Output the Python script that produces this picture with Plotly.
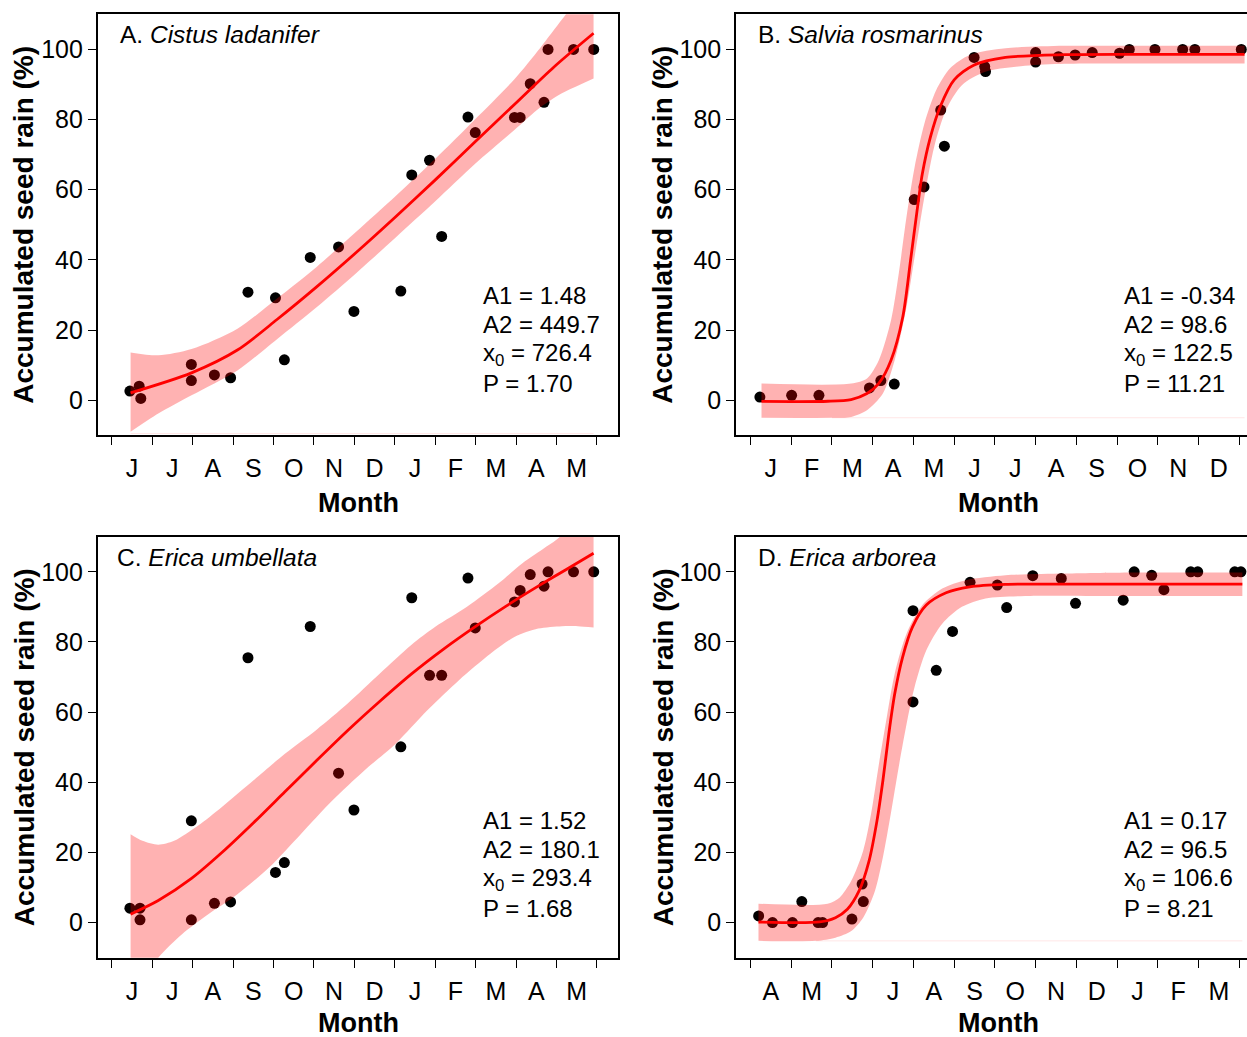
import plotly.graph_objects as go

W, H = 1247, 1037
FONT = "Liberation Sans, Arial, sans-serif"

# ---------------- data (x in month index from the first month tick, y in %) ----------------
a_months = ["J", "J", "A", "S", "O", "N", "D", "J", "F", "M", "A", "M"]
b_months = ["J", "F", "M", "A", "M", "J", "J", "A", "S", "O", "N", "D"]
c_months = ["J", "J", "A", "S", "O", "N", "D", "J", "F", "M", "A", "M"]
d_months = ["A", "M", "J", "J", "A", "S", "O", "N", "D", "J", "F", "M"]

# Panel A  Cistus ladanifer
a_x = [0.45, 0.68, 0.72, 1.97, 1.97, 2.54, 2.94, 3.37, 4.05, 4.27, 4.91, 5.61, 5.99,
       7.15, 7.42, 7.86, 8.16, 8.81, 8.99, 9.96, 10.10, 10.35, 10.69, 10.79, 11.42, 11.92]
a_y = [2.6, 4.0, 0.5, 10.2, 5.6, 7.2, 6.4, 30.8, 29.2, 11.5, 40.7, 43.7, 25.3,
       31.1, 64.2, 68.4, 46.7, 80.7, 76.3, 80.6, 80.6, 90.2, 84.9, 100, 100, 100]
a_fit_x = [0.467, 1.974, 3.109, 4.088, 5.067, 6.045, 7.023, 8.002, 8.981, 9.958, 10.937, 11.916]
a_fit_y = [2.1, 7.8, 14.3, 23.0, 32.3, 42.1, 52.3, 62.8, 73.6, 84.3, 95.0, 104.6]
a_up_x = [0.467, 1.152, 1.974, 3.109, 4.088, 5.067, 6.045, 7.023, 8.002, 8.981, 9.958, 10.6, 11.133, 11.5, 11.916]
a_up_y = [13.6, 12.8, 14.6, 20.4, 29.0, 38.0, 48.0, 58.2, 68.8, 80.0, 91.5, 100.5, 108.5, 114.0, 119.0]
a_lo_x = [0.467, 1.152, 1.974, 3.109, 4.088, 5.067, 6.045, 7.023, 8.002, 8.981, 9.958, 10.6, 11.133, 11.5, 11.916]
a_lo_y = [-9.0, -3.8, 1.4, 8.5, 17.4, 26.5, 36.2, 46.4, 56.7, 67.3, 77.0, 83.5, 87.5, 89.5, 91.7]
a_base = [-9.5, 0.467, 11.916]          # faint baseline of the band: y, from x, to x
a_stats = ["A1 = 1.48", "A2 = 449.7", "x<sub>0</sub> = 726.4", "P = 1.70"]

# Panel B  Salvia rosmarinus
b_x = [0.23, 1.01, 1.68, 2.92, 3.20, 3.53, 4.02, 4.26, 4.67, 4.76, 5.49, 5.75, 5.77,
       7.00, 7.00, 7.56, 7.97, 8.39, 9.06, 9.30, 9.93, 10.61, 10.91, 12.05]
b_y = [0.9, 1.4, 1.4, 3.5, 5.6, 4.6, 57.2, 60.8, 82.7, 72.4, 97.7, 95.1, 93.7,
       99.1, 96.4, 97.9, 98.4, 99.1, 98.9, 100, 100, 100, 100, 100]
b_fit_x = [0.27, 1.9, 2.47, 2.86, 3.15, 3.45, 3.74, 3.93, 4.08, 4.22, 4.42, 4.66, 5.0, 5.48, 6.26, 7.71, 9.5, 12.13]
b_fit_y = [-0.34, -0.3, 0.2, 1.9, 4.8, 11.4, 23.8, 39.9, 53.2, 64.6, 75.1, 83.7, 91.3, 95.5, 97.7, 98.5, 98.6, 98.6]
b_up_x = [0.27, 2.47, 2.86, 3.15, 3.45, 3.64, 3.83, 4.03, 4.27, 4.56, 4.90, 5.38, 6.26, 7.71, 9.5, 12.13]
b_up_y = [4.75, 4.75, 6.2, 11.4, 22.8, 36.1, 52.3, 66.5, 78.9, 88.4, 94.6, 98.4, 100.3, 101.0, 101.05, 101.05]
b_lo_x = [0.27, 2.0, 2.47, 2.86, 3.25, 3.54, 3.83, 4.03, 4.27, 4.51, 4.80, 5.19, 5.77, 6.74, 7.71, 9.5, 12.13]
b_lo_y = [-5.0, -5.0, -4.75, -2.85, 1.9, 11.4, 26.6, 40.9, 58.0, 72.2, 82.7, 89.8, 93.6, 95.3, 95.9, 96.0, 96.0]
b_base = [-5.0, 2.0, 12.13]
b_stats = ["A1 = -0.34", "A2 = 98.6", "x<sub>0</sub> = 122.5", "P = 11.21"]

# Panel C  Erica umbellata
c_x = [0.45, 0.70, 0.70, 1.97, 1.97, 2.54, 2.94, 3.37, 4.05, 4.27, 4.91, 5.61, 5.99,
       7.15, 7.42, 7.86, 8.16, 8.81, 8.99, 9.96, 10.10, 10.35, 10.69, 10.79, 11.42, 11.92]
c_y = [4.1, 4.1, 0.8, 29.0, 0.8, 5.5, 5.9, 75.5, 14.3, 17.1, 84.4, 42.6, 32.1,
       50.1, 92.6, 70.5, 70.5, 98.2, 84.0, 91.4, 94.7, 99.2, 95.9, 100, 100, 100]
c_fit_x = [0.467, 1.152, 1.974, 2.718, 3.501, 4.283, 5.067, 5.849, 6.632, 7.415, 8.198, 8.981, 9.763, 10.546, 11.231, 11.916]
c_fit_y = [2.4, 6.3, 12.6, 19.9, 28.4, 37.3, 46.2, 54.9, 63.1, 70.9, 77.9, 84.3, 90.3, 95.9, 100.6, 105.3]
c_up_x = [0.467, 0.761, 1.152, 1.543, 2.131, 2.718, 3.501, 4.283, 5.067, 5.849, 6.632, 7.415, 8.002, 8.785, 9.567, 10.156, 10.742, 11.133, 11.916]
c_up_y = [25.2, 23.3, 22.2, 23.3, 27.6, 32.9, 40.5, 48.1, 55.0, 62.6, 71.0, 79.2, 84.3, 90.0, 96.7, 102.4, 107.1, 110.5, 125.0]
c_lo_x = [0.467, 1.152, 1.739, 2.327, 3.109, 3.892, 4.675, 5.457, 6.241, 7.023, 7.806, 8.588, 9.372, 9.958, 10.546, 11.133, 11.526, 11.916]
c_lo_y = [-22.0, -10.0, -3.3, 1.9, 8.1, 15.7, 25.2, 34.8, 43.3, 51.0, 60.5, 69.1, 76.7, 81.4, 83.8, 84.5, 84.5, 84.1]
c_base = None
c_stats = ["A1 = 1.52", "A2 = 180.1", "x<sub>0</sub> = 293.4", "P = 1.68"]

# Panel D  Erica arborea
d_x = [0.20, 0.54, 1.03, 1.26, 1.66, 1.77, 2.49, 2.74, 2.77, 3.99, 3.99, 4.56, 4.96, 5.39,
       6.06, 6.29, 6.93, 7.63, 7.98, 9.15, 9.42, 9.85, 10.15, 10.81, 10.98, 11.89, 12.04]
d_y = [1.9, 0, 0, 6.0, 0, 0, 1.0, 11.0, 6.0, 88.9, 62.9, 71.9, 83.0, 97.0,
       96.2, 89.8, 98.9, 98.1, 91.0, 91.9, 100, 99.0, 94.9, 100, 100, 100, 100]
d_fit_x = [0.196, 1.699, 2.086, 2.378, 2.668, 2.911, 3.105, 3.251, 3.396, 3.541, 3.735, 3.978, 4.317, 4.802, 5.384, 6.258, 7.713, 9.5, 12.076]
d_fit_y = [0.17, 0.19, 1.4, 3.8, 9.1, 17.6, 29.0, 40.5, 53.8, 65.2, 75.7, 84.3, 90.5, 94.0, 95.7, 96.4, 96.5, 96.5, 96.5]
d_up_x = [0.196, 1.892, 2.184, 2.474, 2.766, 2.960, 3.153, 3.347, 3.541, 3.833, 4.221, 4.707, 5.288, 6.258, 7.713, 9.5, 12.076]
d_up_y = [5.4, 5.4, 7.1, 11.9, 20.5, 31.0, 45.2, 58.6, 71.0, 82.4, 90.5, 95.2, 97.6, 99.0, 99.5, 99.8, 99.8]
d_lo_x = [0.196, 1.602, 2.086, 2.474, 2.766, 3.057, 3.251, 3.445, 3.638, 3.833, 4.027, 4.317, 4.707, 5.190, 5.772, 6.744, 9.0, 12.076]
d_lo_y = [-5.2, -5.2, -4.3, -2.4, 1.4, 9.1, 18.6, 31.0, 44.3, 56.7, 67.1, 77.6, 85.2, 90.0, 92.4, 93.1, 93.1, 93.1]
d_base = [-5.2, 1.602, 12.076]
d_stats = ["A1 = 0.17", "A2 = 96.5", "x<sub>0</sub> = 106.6", "P = 8.21"]

panels = [
    dict(label="A. <i>Cistus ladanifer</i>", months=a_months, x=a_x, y=a_y, fx=a_fit_x, fy=a_fit_y,
         ux=a_up_x, uy=a_up_y, lx=a_lo_x, ly=a_lo_y, base=a_base, stats=a_stats),
    dict(label="B. <i>Salvia rosmarinus</i>", months=b_months, x=b_x, y=b_y, fx=b_fit_x, fy=b_fit_y,
         ux=b_up_x, uy=b_up_y, lx=b_lo_x, ly=b_lo_y, base=b_base, stats=b_stats),
    dict(label="C. <i>Erica umbellata</i>", months=c_months, x=c_x, y=c_y, fx=c_fit_x, fy=c_fit_y,
         ux=c_up_x, uy=c_up_y, lx=c_lo_x, ly=c_lo_y, base=c_base, stats=c_stats),
    dict(label="D. <i>Erica arborea</i>", months=d_months, x=d_x, y=d_y, fx=d_fit_x, fy=d_fit_y,
         ux=d_up_x, uy=d_up_y, lx=d_lo_x, ly=d_lo_y, base=d_base, stats=d_stats),
]

# ---------------- layout geometry (pixels) ----------------
geom = [
    dict(box=(97.7, 618.0, 14.3, 435.3), xr=(-0.346, 12.52), lab=(117.5, 35), st=(480.8, 295), ylab=24, xlab=358, xt=503),
    dict(box=(736.0, 1247.0, 14.3, 435.3), xr=(-0.356, 12.19), lab=(755.8, 35), st=(1121.9, 295), ylab=663, xlab=998, xt=503),
    dict(box=(97.7, 618.0, 536.7, 957.7), xr=(-0.346, 12.52), lab=(114.8, 557), st=(480.8, 820), ylab=24, xlab=358, xt=1023),
    dict(box=(736.0, 1247.0, 536.7, 957.7), xr=(-0.356, 12.19), lab=(755.8, 557), st=(1121.9, 820), ylab=663, xlab=998, xt=1023),
]

def px(x):
    return x / W

def py(y):
    return 1 - y / H

fig = go.Figure()
annotations = []
layout = {}
BAND = "rgba(255,0,0,0.30)"

for i, (p, g) in enumerate(zip(panels, geom)):
    n = "" if i == 0 else str(i + 1)
    xa, ya = "x" + n, "y" + n
    # observed points
    fig.add_trace(go.Scatter(x=p["x"], y=p["y"], mode="markers", xaxis=xa, yaxis=ya,
                             marker=dict(color="black", size=11, line=dict(width=0)),
                             showlegend=False, hoverinfo="skip"))
    # faint band baseline
    if p["base"] is not None:
        yb, x0, x1 = p["base"]
        fig.add_trace(go.Scatter(x=[x0, x1], y=[yb, yb], mode="lines", xaxis=xa, yaxis=ya,
                                 line=dict(color="rgba(255,0,0,0.10)", width=1),
                                 showlegend=False, hoverinfo="skip"))
    # confidence band: lower edge, then upper edge filled down to it
    fig.add_trace(go.Scatter(x=p["lx"], y=p["ly"], mode="lines", xaxis=xa, yaxis=ya,
                             line=dict(width=0, color=BAND, shape="spline", smoothing=0.8),
                             showlegend=False, hoverinfo="skip"))
    fig.add_trace(go.Scatter(x=p["ux"], y=p["uy"], mode="lines", xaxis=xa, yaxis=ya,
                             fill="tonexty", fillcolor=BAND,
                             line=dict(width=0, color=BAND, shape="spline", smoothing=0.8),
                             showlegend=False, hoverinfo="skip"))
    # fitted curve
    fig.add_trace(go.Scatter(x=p["fx"], y=p["fy"], mode="lines", xaxis=xa, yaxis=ya,
                             line=dict(color="#ff0000", width=2.8, shape="spline", smoothing=0.8),
                             showlegend=False, hoverinfo="skip"))

    l, r, t, b = g["box"]
    right_mirror = i in (0, 2)
    layout["xaxis" + n] = dict(
        domain=[px(l), px(r)], range=list(g["xr"]), anchor=ya,
        tickvals=[k + 0.5 for k in range(12)], ticktext=p["months"], ticks="", ticklen=0,
        ticklabelstandoff=10,
        minor=dict(tickvals=list(range(13)), ticks="outside", ticklen=8, tickwidth=1.3, tickcolor="black"),
        showline=True, linecolor="black", linewidth=1.6, mirror=True,
        showgrid=False, zeroline=False, fixedrange=True,
        tickfont=dict(family=FONT, size=25, color="black"),
    )
    layout["yaxis" + n] = dict(
        domain=[py(b), py(t)], range=[-10, 110], anchor=xa,
        tickvals=[0, 20, 40, 60, 80, 100], ticks="outside", ticklen=8, tickwidth=1.3, tickcolor="black",
        ticklabelstandoff=0,
        showline=True, linecolor="black", linewidth=1.6, mirror=right_mirror,
        showgrid=False, zeroline=False, fixedrange=True,
        tickfont=dict(family=FONT, size=25, color="black"),
    )
    annotations.append(dict(x=px(g["lab"][0]), y=py(g["lab"][1]), xref="paper", yref="paper",
                            text=p["label"], showarrow=False, xanchor="left", yanchor="middle",
                            font=dict(family=FONT, size=24.5, color="black")))
    sx, sy = g["st"]
    for k, s in enumerate(p["stats"]):
        annotations.append(dict(x=px(sx), y=py(sy + 29.5 * k), xref="paper", yref="paper",
                                text=s, showarrow=False, xanchor="left", yanchor="middle",
                                font=dict(family=FONT, size=24, color="black")))
    annotations.append(dict(x=px(g["xlab"]), y=py(g["xt"]), xref="paper", yref="paper",
                            text="<b>Month</b>", showarrow=False, xanchor="center", yanchor="middle",
                            font=dict(family=FONT, size=27, color="black")))
    annotations.append(dict(x=px(g["ylab"]), y=py((t + b) / 2), xref="paper", yref="paper",
                            text="<b>Accumulated seed rain (%)</b>", showarrow=False, textangle=-90,
                            xanchor="center", yanchor="middle",
                            font=dict(family=FONT, size=28, color="black")))

fig.update_layout(width=W, height=H, autosize=False, margin=dict(l=0, r=0, t=0, b=0),
                  paper_bgcolor="white", plot_bgcolor="white", annotations=annotations, **layout)

fig.write_html("out.html")
